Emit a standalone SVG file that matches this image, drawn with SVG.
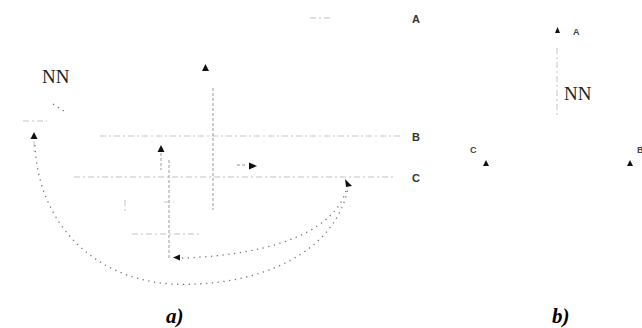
<svg xmlns="http://www.w3.org/2000/svg" width="642" height="328" viewBox="0 0 642 328">
<style>
.bg{fill:#fff}
.ln{fill:none;stroke:#c4c4c4;stroke-width:1;stroke-dasharray:6 3 2 3}
.dk{fill:none;stroke:#999;stroke-width:1;stroke-dasharray:3 2}
.dt{fill:none;stroke:#777;stroke-width:1.3;stroke-dasharray:1.3 4.5}
.tri{fill:#111}
.nn{font-family:"Liberation Serif",serif;font-size:19px;fill:#222}
.lb{font-family:"Liberation Sans",sans-serif;font-size:11px;font-weight:bold;fill:#333}
.lbs{font-family:"Liberation Sans",sans-serif;font-size:9px;font-weight:bold;fill:#444}
.cap{font-family:"Liberation Serif",serif;font-size:21px;font-weight:bold;font-style:italic;fill:#000}
</style>
<rect class="bg" width="642" height="328"/>
<g id="connectors">
  <path class="ln" d="M100 136 H400"/>
  <path class="ln" d="M74 177 H393"/>
  <path class="dk" d="M213 88 V210"/>
  <path class="dk" d="M169 160 V258"/>
  <path class="dk" d="M161 153 V170"/>
  <path class="ln" d="M132 234 H202"/>
  <path class="ln" d="M125 200 V212"/>
  <path class="ln" d="M164 202 H174"/>
  <path class="ln" d="M310 18 H333"/>
  <path class="dk" d="M237 165 H247"/>
  <path class="ln" d="M34 141 V152"/>
  <path class="ln" d="M23 121 H47"/>
  <path class="dt" d="M53 104 L67 113"/>
  <path class="dt" d="M35 145 C38 220 90 278 170 284 C255 288 335 255 348 188"/>
  <path class="dt" d="M182 258 C250 256 330 240 346 191"/>
  <path class="ln" d="M557 48 V118"/>
</g>
<g id="a-nodes">
  <g id="a-NN"><text class="nn" x="42" y="83">NN</text></g>
  <g id="a-A"><text class="lb" x="412" y="23">A</text></g>
  <g id="a-B"><text class="lb" x="412" y="141">B</text></g>
  <g id="a-C"><text class="lb" x="412" y="182">C</text></g>
  <polygon class="tri" points="205.5,64 202,71 209,71"/>
  <polygon class="tri" points="34,132 30.5,139 37.5,139"/>
  <polygon class="tri" points="161,145 157.5,152 164.5,152"/>
  <polygon class="tri" points="257,166 249,162.5 249,169.5"/>
  <polygon class="tri" points="352,186 345,179 346,187"/>
  <polygon class="tri" points="173,257.5 180,254.5 180,260.5"/>
</g>
<g id="b-nodes">
  <polygon class="tri" points="557.5,27 555,33 560,33"/>
  <g id="b-A"><text class="lbs" x="573" y="35">A</text></g>
  <g id="b-NN"><text class="nn" x="564" y="100">NN</text></g>
  <g id="b-C"><text class="lbs" x="470" y="153">C</text></g>
  <polygon class="tri" points="486,160 483,166 489,166"/>
  <polygon class="tri" points="630,160 627,166 633,166"/>
  <g id="b-B"><text class="lbs" x="637" y="153">B</text></g>
</g>
<text class="cap" x="166" y="323">a)</text>
<text class="cap" x="552" y="323">b)</text>
</svg>
